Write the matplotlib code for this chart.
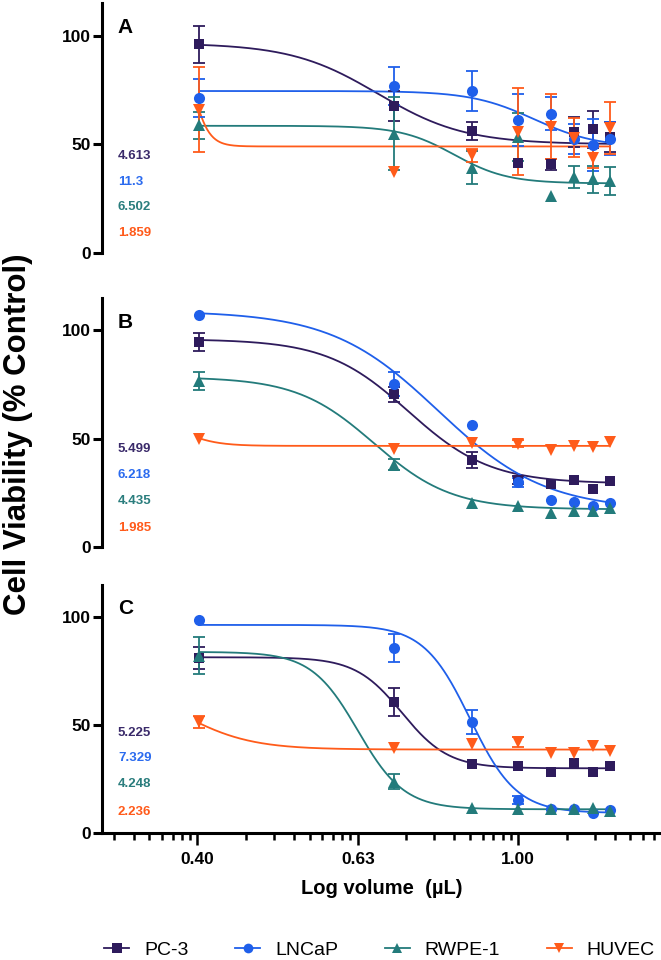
import numpy as np
import matplotlib
matplotlib.use('Agg')
import matplotlib.pyplot as plt
from matplotlib.lines import Line2D

plt.rcParams['font.family'] = ['Liberation Sans', 'DejaVu Sans']
plt.rcParams['font.weight'] = 'bold'

# ---------------- data ----------------
x_vol = [0.40, 0.70, 0.875, 1.00, 1.10, 1.175, 1.24, 1.30]
series_names = ['PC-3', 'LNCaP', 'RWPE-1', 'HUVEC']
series_colors = ['#2E1B5C', '#1F5FEA', '#237B7B', '#FF5B1A']
series_markers = ['s', 'o', '^', 'v']

# Panel A
pc3_A = [95.9, 67.6, 56.0, 41.4, 40.7, 55.7, 56.9, 53.4]
pc3_A_err = [8.3, 6.9, 4.2, 0, 2.5, 6.9, 8.4, 7.0]
lncap_A = [71.3, 76.8, 74.5, 61.0, 64.1, 52.3, 49.5, 52.6]
lncap_A_err = [8.6, 8.8, 9.3, 12.0, 7.7, 7.0, 12.0, 7.5]
rwpe_A = [58.7, 54.9, 39.3, 53.4, 26.1, 35.0, 33.8, 33.0]
rwpe_A_err = [6.1, 16.8, 7.6, 11.0, 0, 5.0, 6.0, 6.5]
huvec_A = [65.9, 37.3, 45.0, 55.7, 58.0, 53.0, 43.9, 57.6]
huvec_A_err = [19.6, 0, 3.0, 20.0, 15.0, 9.0, 5.0, 12.0]

# Panel B
pc3_B = [94.8, 70.6, 40.1, 30.9, 28.9, 30.9, 26.6, 30.4]
pc3_B_err = [4.2, 3.5, 3.6, 2.0, 0, 0, 0, 0]
lncap_B = [107.0, 75.2, 56.4, 29.8, 21.7, 20.9, 18.9, 20.1]
lncap_B_err = [0, 5.5, 0, 2.0, 0, 0, 0, 0]
rwpe_B = [76.7, 38.0, 20.4, 18.9, 15.8, 16.6, 16.6, 17.8]
rwpe_B_err = [4.2, 2.5, 0, 0, 0, 0, 0, 0]
huvec_B = [49.8, 45.2, 48.1, 47.8, 44.7, 46.7, 46.2, 48.5]
huvec_B_err = [0, 0, 0, 1.5, 0, 0, 0, 0]

# Panel C
pc3_C = [81.2, 60.8, 31.9, 31.0, 28.4, 32.3, 28.1, 31.0]
pc3_C_err = [5.0, 6.5, 0, 0, 0, 0, 0, 0]
lncap_C = [98.8, 85.8, 51.5, 15.3, 11.0, 11.0, 9.4, 10.6]
lncap_C_err = [0, 6.5, 5.6, 2.0, 0, 0, 0, 0]
rwpe_C = [82.3, 23.8, 11.4, 11.0, 11.0, 11.0, 11.4, 10.3]
rwpe_C_err = [8.7, 3.5, 0, 0, 0, 0, 0, 0]
huvec_C = [51.5, 39.2, 41.5, 42.3, 36.9, 37.3, 40.3, 38.1]
huvec_C_err = [2.8, 0, 0, 2.2, 0, 0, 0, 0]

# fitted 4PL curves: (top, bottom, logIC50, hill slope)
fit_A = [(96.5, 50.0, -0.175, -8), (74.5, 48.5, 0.02, -11),
         (58.5, 32.0, -0.08, -13), (117.0, 49.0, -0.41, -40)]
fit_B = [(96.0, 29.3, -0.137, -8.5), (109.0, 17.0, -0.10, -6.5),
         (78.5, 17.4, -0.18, -9), (60.0, 46.7, -0.42, -20)]
fit_C = [(81.5, 30.0, -0.145, -15), (96.5, 9.3, -0.06, -15),
         (84.0, 11.0, -0.20, -15), (71.3, 38.7, -0.42, -10)]

ic50_A = ['4.613', '11.3', '6.502', '1.859']
ic50_B = ['5.499', '6.218', '4.435', '1.985']
ic50_C = ['5.225', '7.329', '4.248', '2.236']
ic50_y_A = [44.8, 32.7, 21.0, 9.0]
ic50_y_B = [45.2, 33.2, 21.2, 8.6]
ic50_y_C = [46.2, 34.6, 22.7, 9.9]

x_major = [10 ** -0.4, 10 ** -0.2, 1.0]
x_major_labels = ['0.40', '0.63', '1.00']
text_colors = ['#3A2A6A', '#2B6BEF', '#2A7D7D', '#FF5A1A']

panels = [
    ('A', [pc3_A, lncap_A, rwpe_A, huvec_A], [pc3_A_err, lncap_A_err, rwpe_A_err, huvec_A_err], fit_A, ic50_A, ic50_y_A),
    ('B', [pc3_B, lncap_B, rwpe_B, huvec_B], [pc3_B_err, lncap_B_err, rwpe_B_err, huvec_B_err], fit_B, ic50_B, ic50_y_B),
    ('C', [pc3_C, lncap_C, rwpe_C, huvec_C], [pc3_C_err, lncap_C_err, rwpe_C_err, huvec_C_err], fit_C, ic50_C, ic50_y_C),
]

# ---------------- figure ----------------
fig = plt.figure(figsize=(6.61, 9.6), dpi=100)
ax_rects = [[0.1543, 0.7365, 0.8457, 0.2604],
            [0.1543, 0.4302, 0.8457, 0.2594],
            [0.1543, 0.1323, 0.8457, 0.2583]]
panel_letter_y = [103.5, 103.5, 104.0]

xlim = (10 ** -0.519, 10 ** 0.178)
minor_pos = []
for m in [-0.6, -0.4, -0.2, 0.0, 0.2]:
    for k in range(2, 10):
        p = 10 ** (m + 0.2 * np.log10(k))
        if xlim[0] < p < xlim[1]:
            minor_pos.append(p)

xs = np.logspace(np.log10(min(x_vol)), np.log10(max(x_vol)), 400)
lx = np.log10(xs)
msizes = [7.5, 8.0, 8.5, 8.5]

for i, (letter, ys, errs, fits, ic50, ic50y) in enumerate(panels):
    ax = fig.add_axes(ax_rects[i])
    ax.set_xscale('log')
    ax.set_xlim(*xlim)
    ax.set_ylim(0, 115)
    for s in ['top', 'right']:
        ax.spines[s].set_visible(False)
    ax.spines['left'].set_linewidth(2.2)
    ax.spines['bottom'].set_linewidth(2.2)
    ax.set_yticks([0, 50, 100])
    ax.set_yticklabels(['0', '50', '100'], fontsize=12.5, fontweight='bold')
    ax.tick_params(axis='y', which='major', direction='out', length=6.5, width=2.2, pad=1.5)
    ax.tick_params(axis='y', which='minor', left=False)

    if i < 2:
        ax.spines['bottom'].set_visible(False)
        ax.tick_params(axis='x', which='both', bottom=False, labelbottom=False)
    else:
        ax.set_xticks(x_major)
        ax.set_xticklabels(x_major_labels, fontsize=12.5, fontweight='bold')
        ax.set_xticks(minor_pos, minor=True)
        ax.tick_params(axis='x', which='minor', labelbottom=False, length=5, width=1.8)
        ax.tick_params(axis='x', which='major', length=8.6, width=1.8, pad=5)

    for j in range(4):
        c = series_colors[j]
        top, bot, logic, hill = fits[j]
        yfit = bot + (top - bot) / (1 + 10 ** ((logic - lx) * hill))
        ax.plot(xs, yfit, color=c, lw=1.3, zorder=2)
        xv = np.array(x_vol)
        yv = np.array(ys[j])
        ev = np.array(errs[j])
        mask = ev > 0
        ax.errorbar(xv[mask], yv[mask], yerr=ev[mask], fmt='none', ecolor=c,
                    elinewidth=1.3, capsize=4.3, capthick=1.3, zorder=3)
        ax.plot(xv, yv, linestyle='none', marker=series_markers[j], ms=msizes[j],
                color=c, mec=c, mew=0, zorder=4)
        ax.text(0.0286, ic50y[j], ic50[j], transform=ax.get_yaxis_transform(),
                ha='left', va='center', fontsize=9.5, fontweight='bold', color=text_colors[j])

    ax.text(0.0286, panel_letter_y[i], letter, transform=ax.get_yaxis_transform(),
            ha='left', va='center', fontsize=15, fontweight='bold', color='black')

fig.text(0.027, 0.548, 'Cell Viability (% Control)', rotation=90, ha='center', va='center',
         fontsize=22.5, fontweight='bold')
fig.text(0.1543 + 0.8457 / 2, 1 - 889 / 960, 'Log volume  (µL)', ha='center', va='center',
         fontsize=14.5, fontweight='bold')

handles = [Line2D([], [], color=series_colors[j], marker=series_markers[j], ms=7, lw=1.3, mew=0)
           for j in range(4)]
fig.legend(handles, series_names, ncol=4, loc='center', bbox_to_anchor=(0.574, 0.0104),
           frameon=False, prop={'size': 14, 'weight': 'normal'}, handlelength=1.3,
           handletextpad=0.75, columnspacing=2.4, borderaxespad=0, borderpad=0)

fig.savefig('out.png', dpi=100)
